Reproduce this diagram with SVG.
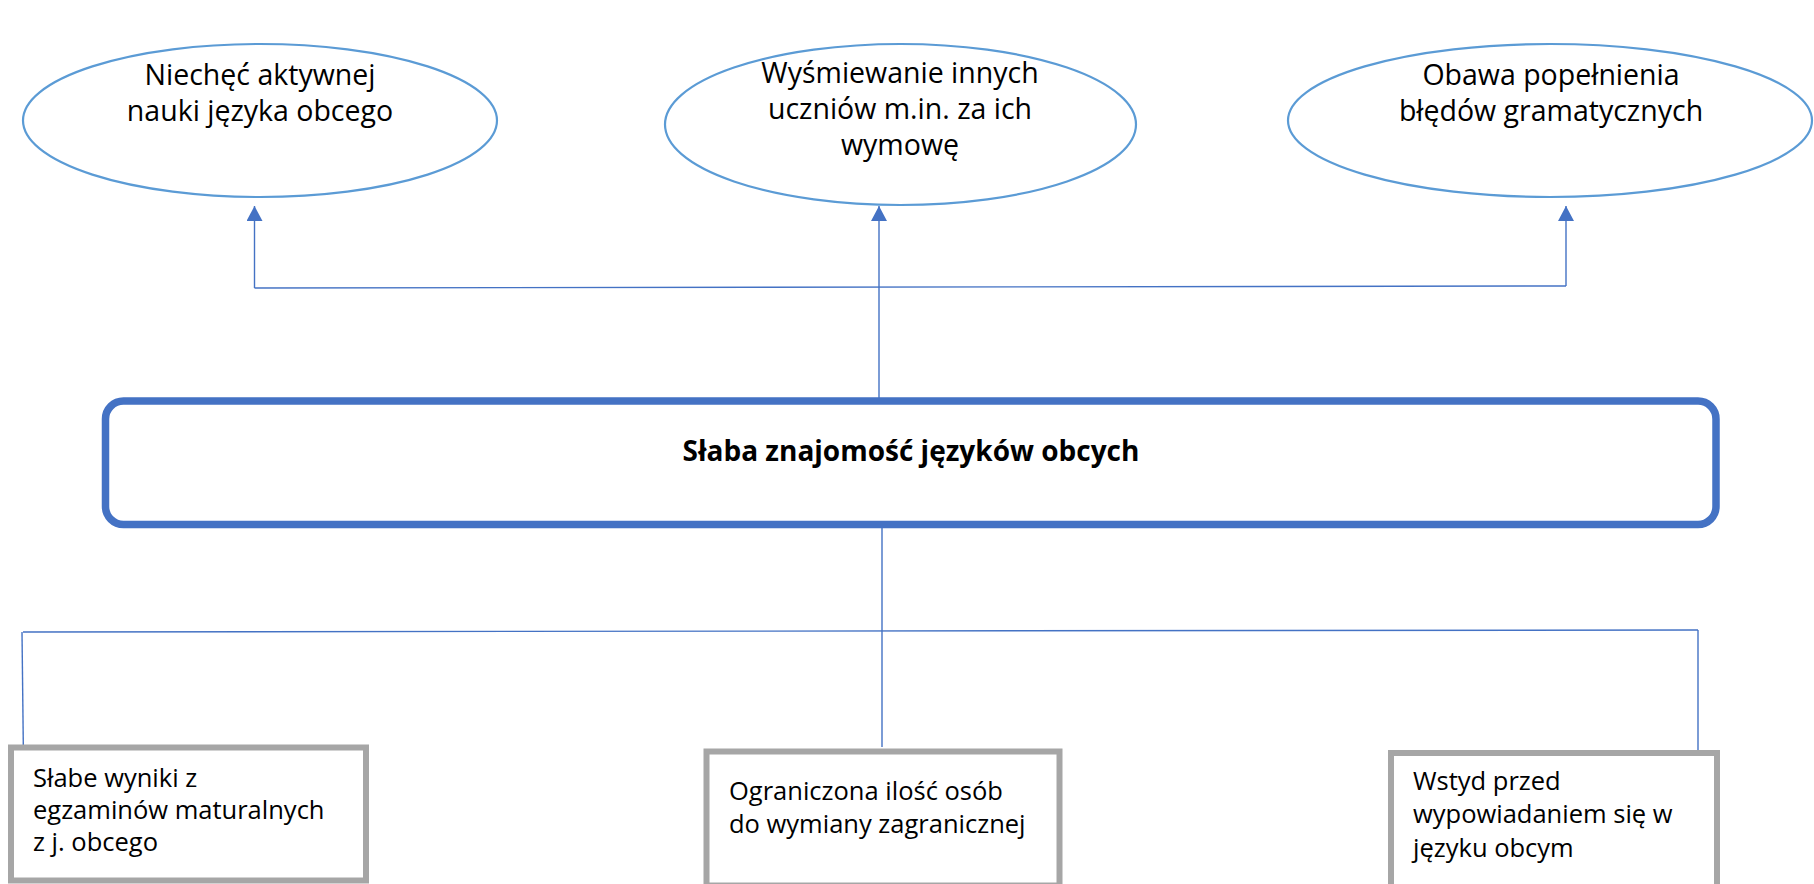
<svg xmlns="http://www.w3.org/2000/svg" width="1814" height="884" viewBox="0 0 1814 884">
<style>
.ell{fill:#fff;stroke:#5b9bd5;stroke-width:2.2}
.et{font-family:"Open Sans","Noto Sans",sans-serif;font-size:28.5px;fill:#000;text-anchor:middle}
.bt{font-family:"Open Sans","Noto Sans",sans-serif;font-size:25.5px;fill:#000}
.box{fill:#fff;stroke:#a6a6a6;stroke-width:6}
.main{fill:#fff;stroke:#4472c4;stroke-width:7.5}
.mt{font-family:"Open Sans","Noto Sans",sans-serif;font-size:28px;font-weight:bold;fill:#000;text-anchor:middle}
.con{fill:none;stroke:#4472c4;stroke-width:1.4}
</style>
<defs>
<marker id="arr" markerUnits="userSpaceOnUse" markerWidth="16" markerHeight="16" viewBox="0 0 15 16" refX="15" refY="8" orient="auto">
<path d="M0,0 L15,8 L0,16 z" fill="#4472c4"/>
</marker>
</defs>
<rect width="1814" height="884" fill="#fff"/>
<g id="connectors">
<path class="con" d="M254.5 288 L1566 286"/>
<path class="con" d="M254.5 288 V206" marker-end="url(#arr)"/>
<path class="con" d="M879 399 V206" marker-end="url(#arr)"/>
<path class="con" d="M1566 286 V206" marker-end="url(#arr)"/>
<path class="con" d="M882 528 V747"/>
<path class="con" d="M23 632 L1698 630"/>
<path class="con" d="M22 632 L23.3 745"/>
<path class="con" d="M1698 630 V750"/>
</g>
<g id="e1">
<ellipse class="ell" cx="260" cy="120.5" rx="237" ry="76.5"/>
<text class="et" x="260" y="85">Niechęć aktywnej</text>
<text class="et" x="260" y="121">nauki języka obcego</text>
</g>
<g id="e2">
<ellipse class="ell" cx="900.5" cy="124.5" rx="235.5" ry="80.5"/>
<text class="et" x="900" y="83">Wyśmiewanie innych</text>
<text class="et" x="900" y="119">uczniów m.in. za ich</text>
<text class="et" x="900" y="155">wymowę</text>
</g>
<g id="e3">
<ellipse class="ell" cx="1550" cy="120.5" rx="262" ry="76.5"/>
<text class="et" x="1551" y="85">Obawa popełnienia</text>
<text class="et" x="1551" y="121">błędów gramatycznych</text>
</g>
<g id="main">
<rect class="main" x="105.5" y="401" width="1610.5" height="123.5" rx="18"/>
<text class="mt" x="911" y="461">Słaba znajomość języków obcych</text>
</g>
<g id="b1">
<rect class="box" x="11" y="747.5" width="355" height="133"/>
<text class="bt" x="33" y="787">Słabe wyniki z</text>
<text class="bt" x="33" y="819">egzaminów maturalnych</text>
<text class="bt" x="33" y="851">z j. obcego</text>
</g>
<g id="b2">
<rect class="box" x="706.5" y="751.5" width="353" height="134"/>
<text class="bt" x="729" y="800">Ograniczona ilość osób</text>
<text class="bt" x="729" y="833">do wymiany zagranicznej</text>
</g>
<g id="b3">
<rect class="box" x="1391" y="753" width="326" height="134"/>
<text class="bt" x="1413" y="790">Wstyd przed</text>
<text class="bt" x="1413" y="823">wypowiadaniem się w</text>
<text class="bt" x="1413" y="857">języku obcym</text>
</g>
</svg>
